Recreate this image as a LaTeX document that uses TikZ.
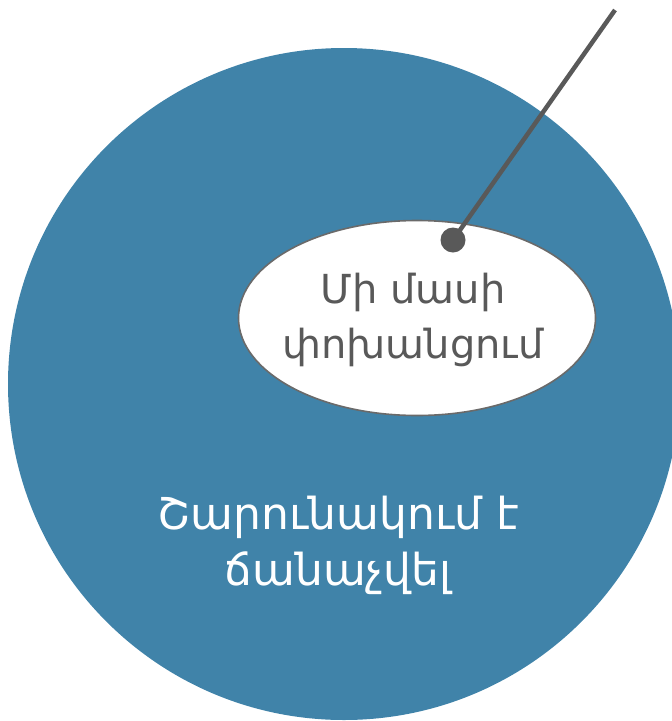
\documentclass[tikz,border=0pt]{standalone}
\usepackage{fontspec}
\setmainfont{DejaVu Sans}
\usetikzlibrary{shapes.geometric}
\definecolor{discblue}{HTML}{4083A9}
\definecolor{labelgray}{HTML}{595959}
\tikzset{
  disc/.style={circle, fill=discblue, minimum size=672pt, inner sep=0pt},
  bubble/.style={ellipse, draw=labelgray!90, line width=1.6pt, fill=white, minimum width=357pt, minimum height=195pt, inner sep=0pt},
  graytext/.style={align=center, text=labelgray, font=\fontsize{40}{55}\selectfont},
  whitetext/.style={align=center, text=white, font=\fontsize{44}{56}\selectfont},
  stick/.style={draw=labelgray, line width=4.5pt},
  dot/.style={circle, fill=labelgray, minimum size=25pt, inner sep=0pt}
}
\begin{document}
\begin{tikzpicture}[x=1pt,y=-1pt]
\useasboundingbox (0,0) rectangle (672,721);
\clip (0,0) rectangle (672,721);
\node[disc] (whole) at (344,384) {};
\node[bubble] (part) at (417,318) {};
\node[graytext] (parttext) at (413,320) {Մի մասի\\փոխանցում};
\node[whitetext] (wholetext) at (338,545) {Շարունակում է\\ճանաչվել};
\coordinate (top) at (615,10);
\node[dot] (pin) at (453,240) {};
\draw[stick] (pin.center) -- (top);
\end{tikzpicture}
\end{document}
